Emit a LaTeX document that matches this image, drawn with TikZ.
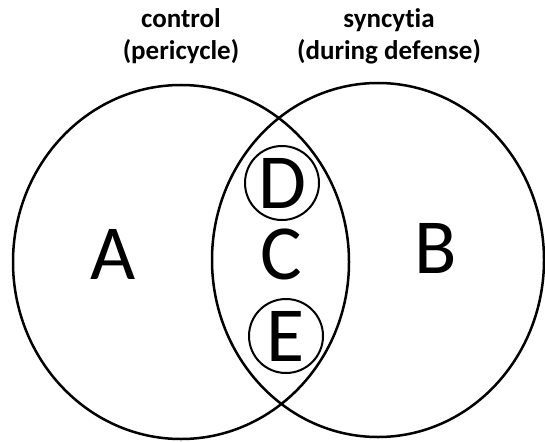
\documentclass[tikz,border=0pt]{standalone}
\usepackage{fontspec}
\setmainfont{Carlito}[Ligatures=NoCommon]
\usetikzlibrary{shapes.geometric}
\tikzset{
  bigset/.style={ellipse, draw, line width=2.5pt, inner sep=0pt},
  bigletter/.style={font=\fontsize{78}{78}\selectfont, inner sep=0pt},
  smallset/.style={circle, draw, line width=2pt, inner sep=0pt, minimum size=74pt, font=\fontsize{78}{78}\selectfont},
  title/.style={font=\fontsize{27}{32}\selectfont\bfseries, inner sep=0pt, anchor=base}
}
\begin{document}
\begin{tikzpicture}[x=1pt,y=1pt]
\useasboundingbox (0,0) rectangle (545,-441);
\node[bigset, minimum width=336pt, minimum height=354pt] (left) at (181,-262) {};
\node[bigset, minimum width=332pt, minimum height=354pt] (right) at (378,-260) {};
\node[bigletter] (A) at (113,-254) {A};
\node[bigletter] (B) at (436,-248) {B};
\node[bigletter] (C) at (281,-254) {C};
\node[smallset] (D) at (282,-183) {D};
\node[smallset] (E) at (286,-336) {E};
\node[title] (t1a) at (181,-28) {control};
\node[title] (t1b) at (181,-60) {(pericycle)};
\node[title] (t2a) at (389,-28) {syncytia};
\node[title] (t2b) at (389,-60) {(during defense)};
\end{tikzpicture}
\end{document}
